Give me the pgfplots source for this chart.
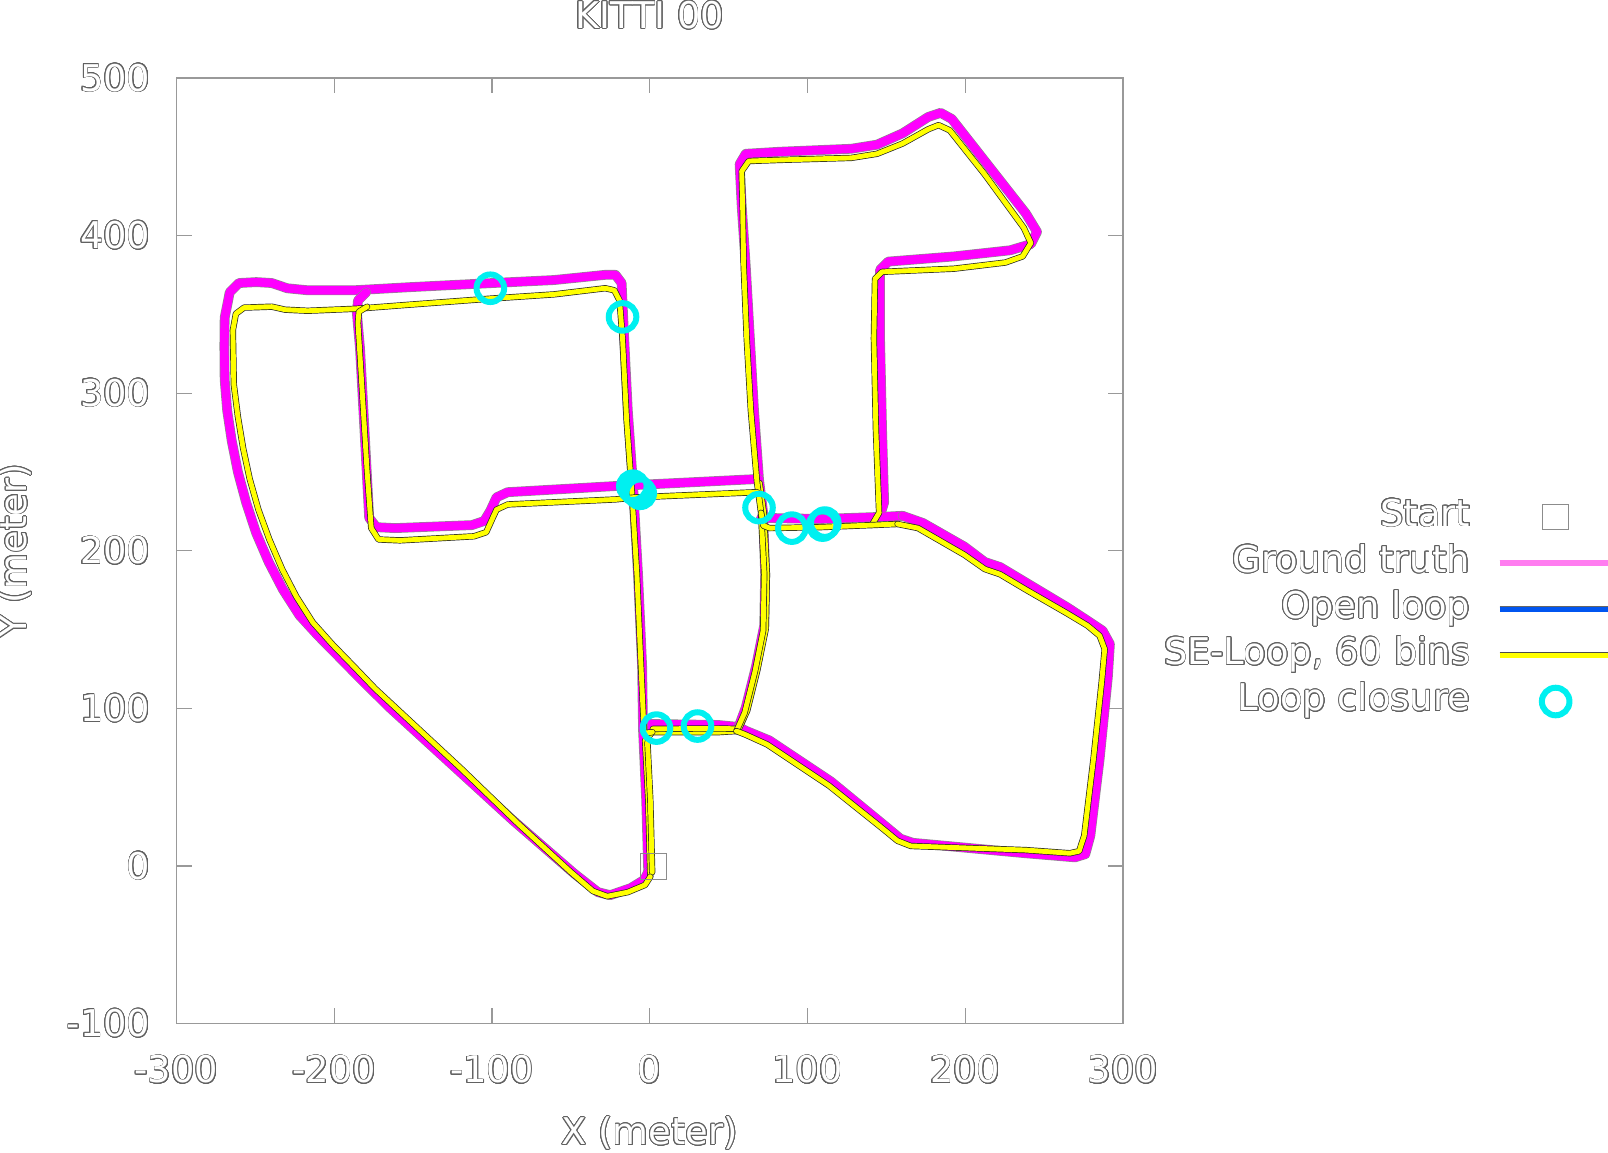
\documentclass[border=0pt]{standalone}
\usepackage{pgfplots}
\pgfplotsset{compat=1.18}
\usepackage{fontspec}
\setmainfont{DejaVu Sans}
\usepackage{contour}
\contourlength{0.38pt}
\contournumber{24}
\newcommand\ct[1]{\contour{black!62}{#1}}
\newcommand\lblfont{\fontsize{18.4}{21.5}\selectfont}
\definecolor{mag}{RGB}{255,0,255}
\definecolor{cy}{RGB}{0,240,240}
\definecolor{ye}{RGB}{255,255,0}
\definecolor{gtleg}{RGB}{255,125,240}
\definecolor{olblue}{RGB}{0,85,240}
\pgfplotsset{
  markleg/.style={legend image code/.code={\draw[mark repeat=2,mark phase=2,##1] plot coordinates {(0pt,0pt) (28pt,0pt) (56pt,0pt)};}},
  lineleg/.style={legend image code/.code={\draw[##1] (0pt,0pt) -- (60pt,0pt);}},
  gt/.style={forget plot, draw=black!45, double=mag, double distance=4.3pt, line width=0.3pt, line join=round, line cap=round},
  se/.style={forget plot, draw=black!85, double=ye, double distance=2.45pt, line width=0.35pt, line join=round, line cap=round},
}
\begin{document}
\begin{tikzpicture}
\begin{axis}[
  scale only axis, width=473.3pt, height=472.8pt,
  xmin=-300, xmax=300, ymin=-100, ymax=500,
  xtick={-300,-200,-100,0,100,200,300},
  xticklabels={\ct{-300},\ct{-200},\ct{-100},\ct{0},\ct{100},\ct{200},\ct{300}},
  ytick={-100,0,100,200,300,400,500},
  yticklabels={\ct{-100},\ct{0},\ct{100},\ct{200},\ct{300},\ct{400},\ct{500}},
  tick align=inside, major tick length=7.7pt,
  axis line style={draw=black!40, line width=0.6pt},
  every tick/.style={draw=black!40, line width=0.6pt},
  xticklabel style={anchor=center, yshift=-23.1pt, inner sep=0pt, text=white, font=\lblfont},
  yticklabel style={anchor=east, xshift=-12.8pt, inner sep=0pt, text=white, font=\lblfont},
  title={\ct{KITTI 00}},
  every axis title shift=0pt,
  title style={at={(axis description cs:0.5,1.0662)}, anchor=center, inner sep=0pt, text=white, font=\lblfont},
  xlabel={\ct{X (meter)}},
  xlabel style={at={(axis description cs:0.5,-0.1161)}, anchor=center, inner sep=0pt, text=white, font=\lblfont},
  ylabel={\ct{Y (meter)}},
  every axis y label/.style={at={(axis description cs:-0.1701,0.5)}, rotate=90, anchor=center, inner sep=0pt, text=white, font=\lblfont},
  legend cell align=right, legend plot pos=right,
  legend style={at={(axis description cs:1.528,0.5542)}, anchor=north east, draw=none, fill=none,
    inner sep=0pt, outer sep=0pt, row sep=5.67pt, column sep=13.2pt, text=white, font=\lblfont,
    nodes={inner sep=0pt, text height=13.3pt, text depth=4.1pt}},
]
% legend entries
\addlegendimage{markleg, only marks, mark=square, mark size=6.4pt, mark options={draw=black!45, line width=0.6pt}}
\addlegendentry{\ct{Start}}
\addlegendimage{lineleg, draw=black!40, double=gtleg, double distance=2.6pt, line width=0.25pt}
\addlegendentry{\ct{Ground truth}}
\addlegendimage{lineleg, draw=black!60, double=olblue, double distance=2.4pt, line width=0.25pt}
\addlegendentry{\ct{Open loop}}
\addlegendimage{lineleg, draw=black!70, double=ye, double distance=2.4pt, line width=0.3pt}
\addlegendentry{\ct{SE-Loop, 60 bins}}
\addlegendimage{markleg, only marks, mark=o, mark size=6.9pt, mark options={draw=cy, line width=3pt}}
\addlegendentry{\ct{Loop closure}}

% ---------------- Ground truth (magenta)
\addplot[gt] coordinates {(-0.9,-3.6) (-2.2,42.0) (-4.2,86.2) (-0.3,90.1) (43.3,89.5) (56.3,88.2)};
\addplot[gt] coordinates {(56.3,88.2) (60.9,100.5) (67.4,126.6) (72.6,152.6) (73.2,185.1) (71.9,224.1) (69.3,245.0)
  (66.1,289.2) (63.5,334.7) (60.9,380.3) (58.3,419.3) (57.0,445.3) (60.9,451.9) (82.3,453.2) (127.8,455.1)
  (144.1,457.7) (160.3,464.9) (176.6,475.3) (184.4,477.9) (191.5,474.0) (212.4,447.3) (238.4,414.1)
  (245.5,402.4) (241.6,394.6) (228.6,390.7) (192.9,386.8) (151.2,383.5) (146.0,378.3) (146.0,334.7)
  (147.3,276.2) (148.6,230.7) (146.0,222.2)};
\addplot[gt] coordinates {(70.6,220.9) (108.3,220.2) (146.0,221.5) (160.3,222.2)};
\addplot[gt] coordinates {(160.3,222.2) (173.3,217.6) (199.4,202.7) (212.4,192.9) (222.1,189.7) (238.4,179.9)
  (264.4,164.3) (277.4,155.8) (287.1,149.3) (291.7,140.9) (290.4,120.0) (285.2,68.0) (279.3,19.2) (276.1,7.5)
  (269.6,5.5) (238.4,8.1) (166.8,14.7) (159.0,17.3) (147.3,27.0) (114.8,53.7) (95.3,66.7) (75.8,79.7)
  (61.5,85.6) (56.3,88.2)};
\addplot[gt] coordinates {(-0.9,-3.6) (-3.5,-8.8) (-12.0,-14.0) (-25.0,-18.5) (-32.8,-16.6) (-47.7,-4.9)
  (-86.7,29.0) (-125.7,64.7) (-164.8,100.5) (-183.0,118.5) (-197.3,133.1) (-210.5,146.5) (-222.0,159.1)
  (-232.5,175.5) (-241.5,192.9) (-249.5,211.5) (-255.8,230.7) (-261.0,250.0)
  (-264.9,269.7) (-267.8,289.0) (-269.4,308.7) (-269.6,330.0) (-269.4,347.8) (-266.2,364.0) (-260.3,369.9) (-249.3,370.5) (-239.5,369.9)
  (-229.8,366.6) (-216.8,365.3) (-187.5,365.3) (-151.8,367.3) (-99.7,369.9) (-60.7,371.8) (-28.2,375.1)
  (-21.7,375.1) (-17.8,369.9) (-16.5,341.3) (-13.9,289.2) (-10.7,243.7) (-7.4,185.1) (-4.8,126.6) (-4.2,86.2)};
\addplot[gt] coordinates {(-179.7,364.0) (-184.9,358.8) (-185.6,351.0) (-183.6,328.2) (-180.4,269.7)
  (-177.8,220.9) (-173.2,215.0) (-161.5,214.4) (-112.7,216.3) (-104.9,218.9) (-101.0,225.4) (-97.1,233.9)
  (-90.0,237.2) (-21.7,241.1) (69.3,245.6)};

% ---------------- Loop closures (cyan)
\addplot[forget plot, only marks, mark=o, mark size=6.9pt, mark options={draw=cy, line width=3pt}]
  coordinates {(-101.0,366.6) (-17.2,348.4) (-10.7,241.0) (-8.5,238.5) (-6.0,236.5) (69.3,227.4)
  (90.1,214.4) (109.6,216.3) (111.0,217.6) (4.3,87.5) (30.3,88.8)};

% ---------------- SE-Loop (yellow)
\addplot[se] coordinates {(0.4,-6.8) (-0.9,42.0) (-2.9,79.7) (1.7,84.9) (43.3,84.9) (55.0,85.6)};
\addplot[se] coordinates {(1.6,-4.0) (0.4,42.0) (-1.4,78.5)};
\addplot[se] coordinates {(2.0,87.0) (43.3,87.3) (56.5,87.0) (61.8,98.5) (68.3,124.5) (73.6,150.5) (74.3,185.1) (72.3,224.1) (69.6,243.0)};
\addplot[se] coordinates {(55.0,85.6) (60.2,97.3) (66.7,123.3) (71.9,149.3) (72.6,185.1) (70.6,224.1) (68.0,243.7)
  (64.1,289.2) (61.5,334.7) (59.6,380.3) (58.9,419.3) (58.3,440.8) (62.8,447.3) (82.3,448.0) (127.8,449.3)
  (144.1,451.9) (160.3,458.4) (176.6,467.5) (183.1,470.1) (190.2,466.8) (212.4,438.8) (237.1,405.0)
  (241.6,395.3) (236.4,386.8) (225.4,382.9) (192.9,379.0) (147.3,377.0) (142.8,372.5) (142.1,334.7)
  (143.4,276.2) (145.4,224.1) (140.8,216.3)};
\addplot[se] coordinates {(70.6,224.1) (72.0,216.0) (76.0,214.4) (108.3,215.0) (140.8,216.3) (157.1,217.0)};
\addplot[se] coordinates {(157.1,217.0) (170.1,214.4) (199.4,197.5) (212.4,188.4) (222.1,185.1) (238.4,175.4)
  (264.4,160.4) (277.4,152.6) (285.2,146.1) (288.4,137.6) (286.5,116.8) (281.3,68.0) (275.4,19.2) (272.2,9.4)
  (266.3,8.1) (238.4,10.1) (165.5,12.7) (157.1,16.0) (146.0,25.1) (113.5,51.1) (94.0,64.1) (74.5,77.1)
  (60.2,83.6) (55.0,85.6)};
\addplot[se] coordinates {(0.4,-6.8) (-2.9,-12.0) (-13.9,-16.6) (-26.9,-19.2) (-36.0,-15.9) (-50.3,-3.6)
  (-83.5,27.0) (-119.2,61.5) (-158.3,97.9) (-174.0,112.5) (-187.5,126.6) (-201.0,140.5) (-213.5,154.5)
  (-224.0,171.0) (-233.0,188.4) (-241.0,207.0) (-248.0,226.1) (-253.5,245.5)
  (-257.7,265.1) (-261.0,285.0) (-263.6,305.5) (-264.2,340.0) (-262.3,350.4) (-257.1,354.3) (-239.5,354.9) (-231.1,353.0)
  (-216.8,352.3) (-185.6,353.6) (-151.8,356.2) (-99.7,360.1) (-60.7,362.7) (-28.2,366.6) (-22.4,365.3)
  (-19.1,358.8) (-17.2,334.7) (-14.6,282.7) (-11.3,237.2) (-8.1,185.1) (-5.5,126.6) (-3.5,84.3) (1.7,84.9)};
\addplot[se] coordinates {(-179.1,354.9) (-184.3,351.7) (-184.9,344.5) (-182.3,302.2) (-179.1,250.2)
  (-176.5,214.4) (-171.9,207.2) (-158.3,206.6) (-111.4,209.2) (-103.6,211.8) (-100.4,218.9) (-97.1,226.1)
  (-90.0,229.4) (-21.7,232.6) (-8.7,233.9) (68.0,237.2)};

% ---------------- Start
\addplot[forget plot, only marks, mark=square, mark size=6.4pt, mark options={draw=black!45, line width=0.6pt}]
  coordinates {(2.3,-0.3)};
\end{axis}
\pgfresetboundingbox
\path[use as bounding box] (-88.2pt,-64.6pt) rectangle (715.8pt,511.8pt);
\end{tikzpicture}
\end{document}
